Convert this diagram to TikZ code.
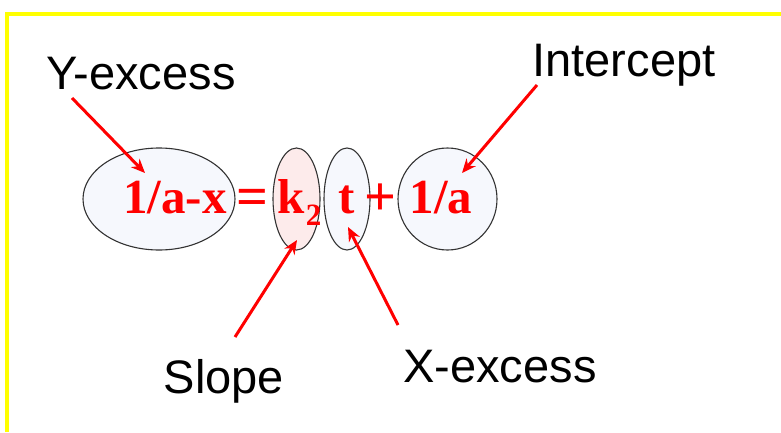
\documentclass[tikz,border=0pt]{standalone}
\usepackage{fontspec}
\setmainfont{Liberation Serif}
\newfontfamily\labfont{Liberation Sans}
\usetikzlibrary{shapes.geometric,arrows.meta}
\definecolor{ovalblue}{HTML}{F6F8FD}
\definecolor{ovalpink}{HTML}{FDEBEB}
\definecolor{frameyellow}{HTML}{FFFF00}
\begin{document}
\begin{tikzpicture}[x=1pt,y=1pt,
  oval/.style={ellipse, draw=black!80, line width=1.1pt, inner sep=0pt, fill=#1},
  lab/.style={font=\labfont\fontsize{47}{47}\selectfont, text=black, inner sep=0pt, anchor=base},
  eq/.style={font=\bfseries\fontsize{49}{49}\selectfont, text=red, inner sep=0pt, anchor=base},
  op/.style={font=\bfseries\fontsize{56}{56}\selectfont, text=red, inner sep=0pt, anchor=base},
  sub/.style={font=\bfseries\fontsize{31}{31}\selectfont, text=red, inner sep=0pt, anchor=base},
  pointer/.style={draw=red, line width=3pt, -{Stealth[length=14pt,width=12pt]}}
]
\useasboundingbox (0,0) rectangle (781,432);
\fill[white] (0,0) rectangle (781,432);
\draw[frameyellow, line width=3.5pt] (7,0) -- (7,418) -- (781,418);

% ovals
\node[oval=ovalblue, minimum width=152pt, minimum height=102pt] (e1) at (159,233) {};
\node[oval=ovalpink, minimum width=47pt, minimum height=102pt] (e2) at (296.5,233) {};
\node[oval=ovalblue, minimum width=46pt, minimum height=102pt] (e3) at (347,233) {};
\node[oval=ovalblue, minimum width=99pt, minimum height=102pt] (e4) at (447.5,233) {};

% equation
\node[eq] (t1) at (175,219) {1/a-x};
\node[op] (t2) at (252.5,217) {=};
\node[eq] (t3) at (291,219) {k};
\node[sub] (t4) at (313.5,207) {2};
\node[eq] (t5) at (347,219) {t};
\node[op] (t6) at (380.5,217) {+};
\node[eq] (t7) at (441,219) {1/a};

% labels
\node[lab] (ly) at (141,342) {Y-excess};
\node[lab] (li) at (624,355) {Intercept};
\node[lab] (ls) at (224,39) {Slope};
\node[lab] (lx) at (500,50) {X-excess};

% arrow ends
\coordinate (ys) at (72,334);  \coordinate (ye) at (145,259);
\coordinate (is) at (537,347); \coordinate (ie) at (462,259);
\coordinate (ss) at (235,95);  \coordinate (se) at (297,192);
\coordinate (xs) at (398,107); \coordinate (xe) at (348,205);

\draw[pointer] (ys) -- (ye);
\draw[pointer] (is) -- (ie);
\draw[pointer] (ss) -- (se);
\draw[pointer] (xs) -- (xe);
\end{tikzpicture}
\end{document}
